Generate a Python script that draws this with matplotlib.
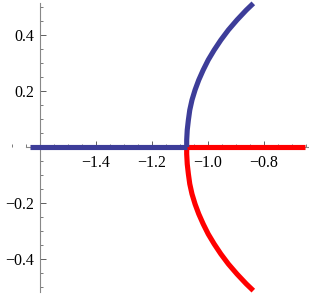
import matplotlib
matplotlib.use("Agg")
import matplotlib.pyplot as plt
from matplotlib.ticker import MultipleLocator, FixedLocator

# Blue branch: real-axis segment then upper arc
blue_real_x = [-1.635, -1.076]
blue_real_y = [0.0, 0.0]
arc_x = [-1.076, -1.076, -1.074, -1.070, -1.065, -1.057, -1.046, -1.033,
         -1.017, -0.999, -0.978, -0.954, -0.927, -0.896, -0.863, -0.838]
arc_y = [0.0, 0.025, 0.061, 0.096, 0.132, 0.168, 0.204, 0.239,
         0.275, 0.311, 0.346, 0.382, 0.418, 0.454, 0.489, 0.513]
# Red branch: real-axis segment then lower arc (mirror)
red_real_x = [-1.076, -0.655]
red_real_y = [0.0, 0.0]
red_arc_x = arc_x
red_arc_y = [-v for v in arc_y]

xticks = [-1.4, -1.2, -1.0, -0.8]
yticks = [-0.4, -0.2, 0.2, 0.4]

plt.rcParams['font.family'] = ['Liberation Serif', 'DejaVu Serif']
plt.rcParams['axes.unicode_minus'] = True

fig = plt.figure(figsize=(3.09, 2.94), dpi=100)
ax = fig.add_axes([0, 0, 1, 1])
ax.set_xlim(-1.743, -0.639)
ax.set_ylim(-0.525, 0.525)

blue = '#3d3d99'
red = '#ff0000'
lw = 3.7
ax.plot(red_real_x, red_real_y, color=red, lw=lw, solid_capstyle='butt', zorder=3)
ax.plot(red_arc_x, red_arc_y, color=red, lw=lw, solid_capstyle='butt', solid_joinstyle='round', zorder=3)
ax.plot(blue_real_x, blue_real_y, color=blue, lw=lw, solid_capstyle='butt', zorder=4)
ax.plot(arc_x, arc_y, color=blue, lw=lw, solid_capstyle='butt', solid_joinstyle='round', zorder=4)

for s in ['top', 'right']:
    ax.spines[s].set_visible(False)
ax.spines['left'].set_position(('data', -1.6))
ax.spines['bottom'].set_position(('data', 0.0))
ax.spines['left'].set_bounds(-0.518, 0.514)
ax.spines['bottom'].set_bounds(-1.65, -0.639)
for s in ['left', 'bottom']:
    ax.spines[s].set_color('#888888')
    ax.spines[s].set_linewidth(0.8)
    ax.spines[s].set_zorder(2)

ax.xaxis.set_major_locator(FixedLocator(xticks))
ax.yaxis.set_major_locator(FixedLocator(yticks))
ax.xaxis.set_minor_locator(MultipleLocator(0.05))
ax.yaxis.set_minor_locator(MultipleLocator(0.05))
ax.set_xticklabels([f"{v:.1f}".replace('-', '\u2212') for v in xticks])
ax.set_yticklabels([f"{v:.1f}".replace('-', '\u2212') for v in yticks])
ax.tick_params(which='major', direction='in', length=4, width=0.6, color='#444444', labelsize=11.5)
ax.tick_params(which='minor', direction='in', length=2.2, width=0.5, color='#444444')
ax.tick_params(axis='x', pad=6)
ax.tick_params(axis='y', pad=4)
ax.patch.set_alpha(0)
fig.savefig('out.png', dpi=100, facecolor='white')
